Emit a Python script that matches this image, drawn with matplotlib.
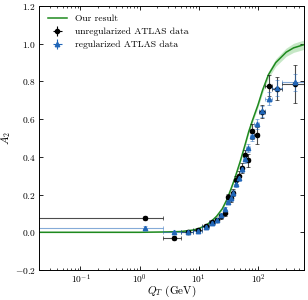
import numpy as np
import matplotlib.pyplot as plt
from matplotlib.lines import Line2D

plt.rcParams['font.family'] = 'serif'
plt.rcParams['font.serif'] = ['cmr10', 'DejaVu Serif']
plt.rcParams['mathtext.fontset'] = 'cm'
plt.rcParams['axes.formatter.use_mathtext'] = True

# pT bins (GeV)
bin_lo = np.array([0, 2.5, 5, 8, 11.4, 14.9, 18.5, 22, 25.5, 29, 32.6, 36.4, 40.4,
                   44.9, 50.2, 56.4, 63.9, 73.4, 85.4, 105, 132, 173, 253])
bin_hi = np.array([2.5, 5, 8, 11.4, 14.9, 18.5, 22, 25.5, 29, 32.6, 36.4, 40.4, 44.9,
                   50.2, 56.4, 63.9, 73.4, 85.4, 105, 132, 173, 253, 600])

# unregularized ATLAS data
a2_unreg = np.array([0.074, -0.030, 0.000, 0.012, 0.035, 0.055, 0.066, 0.085, 0.100,
                     0.186, 0.180, 0.210, 0.276, 0.300, 0.340, 0.408, 0.382, 0.536,
                     0.515, 0.640, 0.778, 0.762, 0.787])
err_unreg = np.array([0.010, 0.010, 0.010, 0.010, 0.010, 0.012, 0.012, 0.014, 0.015,
                      0.018, 0.018, 0.020, 0.022, 0.024, 0.026, 0.030, 0.035, 0.040,
                      0.045, 0.035, 0.055, 0.060, 0.100])

# regularized ATLAS data
a2_reg = np.array([0.025, 0.002, 0.002, 0.009, 0.030, 0.050, 0.067, 0.094, 0.124,
                   0.160, 0.180, 0.209, 0.257, 0.290, 0.336, 0.386, 0.446, 0.510,
                   0.575, 0.642, 0.708, 0.765, 0.796])
err_reg = np.array([0.006, 0.006, 0.006, 0.006, 0.007, 0.008, 0.008, 0.009, 0.010,
                    0.012, 0.012, 0.013, 0.015, 0.016, 0.018, 0.020, 0.022, 0.025,
                    0.028, 0.030, 0.035, 0.040, 0.045])

# our result (theory curve) and its band
q_th = np.array([0.02, 1, 3, 5, 8, 10, 13, 16, 20, 25, 30, 35, 40, 45, 50, 60, 70,
                 80, 90, 100, 120, 150, 200, 300, 400, 600])
a2_th = np.array([0.0, 0.0, 0.002, 0.004, 0.012, 0.020, 0.036, 0.056, 0.085, 0.125,
                  0.175, 0.230, 0.280, 0.330, 0.375, 0.460, 0.535, 0.590, 0.635,
                  0.675, 0.755, 0.835, 0.900, 0.955, 0.978, 0.995])
band_w = np.array([0.002, 0.002, 0.002, 0.002, 0.003, 0.003, 0.004, 0.004, 0.005, 0.005,
                   0.006, 0.006, 0.007, 0.008, 0.009, 0.010, 0.011, 0.012, 0.013,
                   0.014, 0.016, 0.018, 0.020, 0.022, 0.024, 0.025])

centers = (bin_lo + bin_hi) / 2
xerr = [centers - bin_lo, bin_hi - centers]

fig = plt.figure(figsize=(3.08, 3.0), dpi=100)
ax = fig.add_axes([0.127, 0.10, 0.86, 0.88])

green = '#1f8a1f'
blue = '#2166b8'

ax.fill_between(q_th, a2_th - band_w, a2_th + band_w, color='#8fd18f', alpha=0.5, lw=0)
ax.plot(q_th, a2_th, color=green, lw=1.1)

ax.errorbar(centers, a2_unreg, yerr=err_unreg, xerr=xerr, fmt='o', color='k', ms=3,
            ecolor=(0, 0, 0, 0.7), elinewidth=0.8, capsize=1.2, capthick=0.6)
ax.errorbar(centers, a2_reg, yerr=err_reg, xerr=xerr, fmt='^', color=blue, ms=3.2,
            ecolor=(0.13, 0.4, 0.72, 0.55), elinewidth=0.8, capsize=1.2, capthick=0.6)

ax.set_xscale('log')
ax.set_xlim(0.02, 600)
ax.set_ylim(-0.2, 1.2)
ax.set_yticks([-0.2, 0.0, 0.2, 0.4, 0.6, 0.8, 1.0, 1.2])
ax.tick_params(which='both', direction='in', top=True, right=True, labelsize=6.8, pad=2.5)
ax.tick_params(axis='x', which='both', pad=2)
ax.tick_params(which='major', length=3, width=0.6)
ax.tick_params(which='minor', length=1.5, width=0.5)
for s in ax.spines.values():
    s.set_linewidth(0.7)

ax.set_xlabel(r'$Q_T$ (GeV)', fontsize=8, labelpad=-1.5)
ax.set_ylabel(r'$A_2$', fontsize=8, labelpad=1)

h_th = Line2D([], [], color=green, lw=1.1)
h_un = ax.errorbar([], [], yerr=[], xerr=[], fmt='o', color='k', ms=3,
                   elinewidth=0.8, capsize=1.2)
h_re = ax.errorbar([], [], yerr=[], xerr=[], fmt='^', color=blue, ms=3.2,
                   elinewidth=0.8, capsize=1.2)
ax.legend([h_th, h_un, h_re],
          ['Our result', 'unregularized ATLAS data', 'regularized ATLAS data'],
          loc='upper left', frameon=False, fontsize=6.9, handlelength=2.0,
          borderaxespad=0.5, labelspacing=0.45)

fig.savefig('out.png', dpi=100)
